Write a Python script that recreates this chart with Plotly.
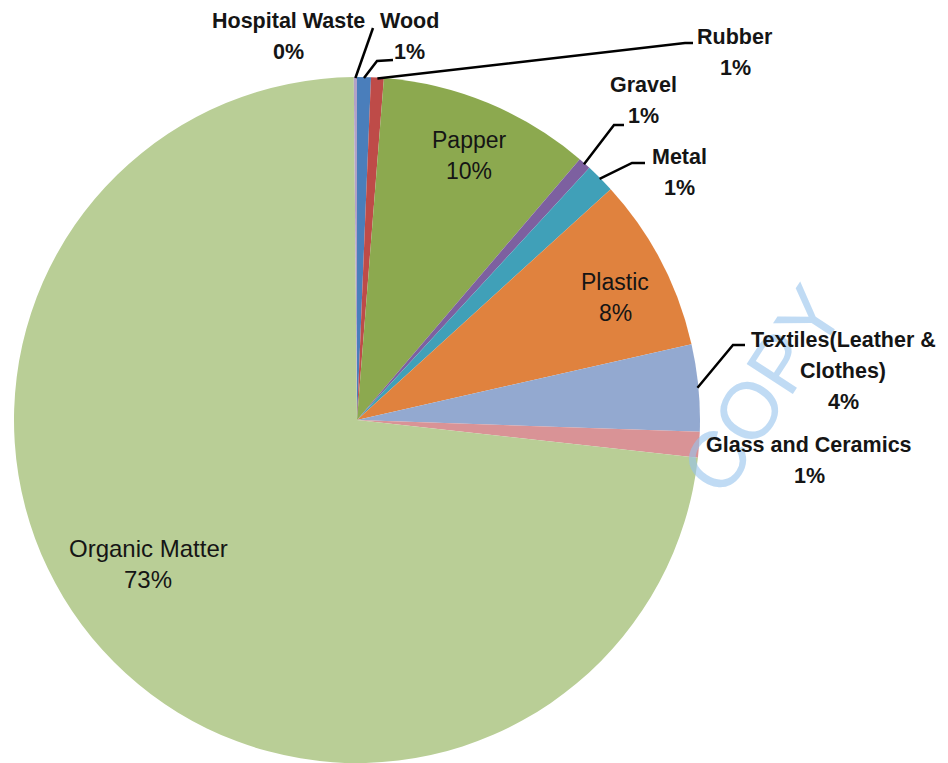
import math
import plotly.graph_objects as go

# Composition of municipal solid waste (share of total, %)
categories = ["Wood", "Rubber", "Papper", "Gravel", "Metal", "Plastic",
              "Textiles(Leather &<br>Clothes)", "Glass and Ceramics",
              "Organic Matter", "Hospital Waste"]
values = [0.65, 0.6, 10.0, 0.6, 1.4, 8.2, 4.1, 1.2, 73.1, 0.15]
colors = ["#4A7EBB", "#BE4B48", "#8CA94F", "#7D60A0", "#40A0B8", "#E0823E",
          "#93A9D0", "#D99396", "#B9CE96", "#B3A2C7"]

W, H = 948, 763
CX, CY, R = 357, 420, 343  # pie centre and radius in pixels

total = sum(values)
pct = [round(100 * v / total) for v in values]


def px(x):
    return x / W


def py(y):
    return 1 - y / H


fig = go.Figure(go.Pie(
    labels=categories,
    values=values,
    sort=False,
    direction="clockwise",
    rotation=0,
    textinfo="none",
    marker=dict(colors=colors, line=dict(width=0)),
    hoverinfo="label+percent",
    showlegend=False,
    domain=dict(x=[px(CX - R), px(CX + R)], y=[py(CY + R), py(CY - R)]),
))

# Mid-angle (degrees clockwise from 12 o'clock) of each slice
mid = []
acc = 0.0
for v in values:
    a = 360 * v / total
    mid.append(acc + a / 2)
    acc += a


def edge(i, r=R):
    t = math.radians(mid[i])
    return CX + r * math.sin(t), CY - r * math.cos(t)


# Faint watermark across the right side (drawn first, under the labels)
annotations = [dict(
    x=px(762), y=py(390), xref="paper", yref="paper", text="COPY",
    showarrow=False, textangle=-57, xanchor="center", yanchor="middle",
    font=dict(family="Liberation Sans, Arial, sans-serif", size=80,
              color="rgba(150,195,236,0.6)"),
)]

# Label placement: (text centre x, first line y, bold)
label_pos = {
    "Papper": (469, 140, False),
    "Plastic": (615, 282, False),
    "Organic Matter": (148, 548, False),
    "Hospital Waste": (288, 21, True),
    "Wood": (409, 21, True),
    "Rubber": (735, 37, True),
    "Gravel": (643, 85, True),
    "Metal": (679, 157, True),
    "Textiles(Leather &<br>Clothes)": (843, 340, True),
    "Glass and Ceramics": (809, 445, True),
}

for i, name in enumerate(categories):
    x, y, bold = label_pos[name]
    lines = name.split("<br>") + [f"{pct[i]}%"]
    size = 21.5 if bold else 23
    if name == "Organic Matter":
        size = 24
    for k, line in enumerate(lines):
        txt = f"<b>{line}</b>" if bold else line
        annotations.append(dict(
            x=px(x), y=py(y + 31 * k), xref="paper", yref="paper",
            text=txt, showarrow=False, xanchor="center", yanchor="middle",
            font=dict(family="Liberation Sans, Arial, sans-serif",
                      size=size, color="#151515"),
        ))

# Leader lines: slice edge -> elbow -> end of horizontal tick
leaders = {
    "Hospital Waste": [(373, 28)],
    "Wood": [(377, 61), (393, 60)],
    "Rubber": [(685, 43), (693, 43)],
    "Gravel": [(614, 125), (624, 125)],
    "Metal": [(632, 163), (645, 163)],
    "Textiles(Leather &<br>Clothes)": [(733, 345), (745, 345)],
}

shapes = []
for i, name in enumerate(categories):
    if name not in leaders:
        continue
    pts = [edge(i, R - 1)] + leaders[name]
    path = "M " + " L ".join(f"{px(x)},{py(y)}" for x, y in pts)
    shapes.append(dict(type="path", xref="paper", yref="paper", path=path,
                       line=dict(color="#000000", width=2.5)))

fig.update_layout(
    width=W, height=H,
    margin=dict(l=0, r=0, t=0, b=0),
    paper_bgcolor="white",
    plot_bgcolor="white",
    annotations=annotations,
    shapes=shapes,
)

fig.write_html("out.html")
